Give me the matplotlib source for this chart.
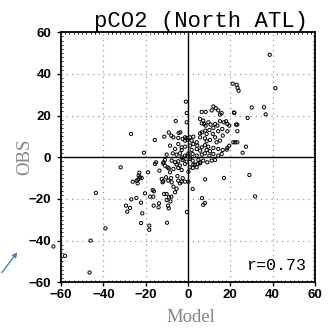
import matplotlib
matplotlib.use("Agg")
import matplotlib.pyplot as plt
from matplotlib.patches import FancyArrowPatch
from matplotlib.ticker import MultipleLocator

# Model vs. observed pCO2 anomalies, North Atlantic
points = [
    (-63.6, -42.8), (-58.1, -47.3), (-46.5, -55.3), (-46.0, -40.0), (-39.0, -34.1),
    (-43.5, -17.1), (-31.8, -4.8), (-26.9, 11.2), (-20.8, 2.2), (-15.7, 8.3),
    (38.6, 49.2), (41.3, 33.2), (21.1, 35.3), (23.0, 34.8), (23.4, 33.3),
    (23.9, 32.0), (-1.0, 26.7), (30.1, 23.9), (35.9, 24.0), (36.7, 20.6),
    (21.7, 21.5), (28.2, 18.9), (27.4, 5.1), (25.8, 2.2), (29.0, -8.5),
    (31.7, -18.8), (17.0, -9.9), (8.1, -10.6), (6.6, -19.6), (7.2, -22.8),
    (8.0, -21.9), (2.2, -15.2), (-0.5, -26.3), (-22.2, -31.6), (-18.3, -32.8),
    (-18.3, -34.8), (-9.9, -31.4), (-29.3, -23.2), (-27.4, -24.3), (-28.7, -26.1),
    (-21.6, -26.9), (-26.8, -20.2), (-24.4, -19.5), (-22.2, -21.8), (-20.3, -17.3),
    (-17.9, -18.9), (-16.4, -18.9), (-16.2, -23.2), (-13.7, -22.1), (-10.1, -20.5),
    (-9.4, -23.2), (-9.1, -24.5), (-10.1, -17.6), (-13.9, -24.0), (-16.7, -15.7),
    (-16.1, -16.3), (-6.9, -14.1), (-5.4, -15.1), (-6.1, -16.8), (-11.3, -17.6),
    (-9.0, -19.2), (-7.9, -18.9), (-8.3, -21.2),
    (-26.1, -11.7), (-24.2, -11.2), (-23.5, -10.6), (-22.7, -9.6), (-23.0, -7.4),
    (-21.9, -9.9), (-23.3, -8.8), (-23.8, -12.5), (-18.9, -7.2), (-15.1, -2.4),
    (-15.6, -3.2), (-11.7, -2.9), (-10.9, -4.0), (-11.5, -2.4), (-9.6, -4.8),
    (-9.1, -5.3), (-12.4, -10.4), (-11.7, -11.5), (-10.4, -9.6), (-9.3, -11.2),
    (-7.7, -12.0), (-4.6, -11.2), (-3.8, -12.5), (-3.0, -11.7), (-1.4, -11.7),
    (0.2, -11.7), (-5.0, -9.0), (-2.5, -10.0), (-12.0, -12.0), (-8.0, -10.0),
    (-6.9, -5.6), (-4.6, -5.1), (-3.0, -6.1), (0.2, -6.9), (2.2, -5.1),
    (4.1, -4.8), (-8.5, -7.2), (-13.5, -6.4), (0.9, -4.8), (2.5, -3.5),
    (4.6, -3.2), (5.7, -2.4),
    (-10.9, -1.3), (-7.7, -1.6), (-6.1, -2.4), (-4.6, -1.9), (-2.5, -1.3),
    (-0.6, -2.1), (2.2, -1.6), (4.9, -1.3), (7.2, -1.6), (9.1, -2.4),
    (11.2, -1.6), (12.8, -1.3), (-5.4, -3.5), (-3.8, -4.0), (-1.4, -3.2),
    (5.7, -2.9), (3.3, -3.5), (-10.1, 1.3), (-7.2, 1.9), (-5.4, 1.3),
    (-3.8, 1.9), (-1.4, 0.8), (0.2, 1.9), (2.2, 1.6), (4.1, 0.8),
    (6.5, 1.3), (8.0, 1.9), (10.1, 0.8), (12.0, 1.6), (14.3, 0.8),
    (15.9, 1.6), (-3.0, 0.0), (0.9, 0.0), (-2.2, -0.5), (1.0, -0.8),
    (-0.3, 0.5),
    (-8.5, 5.6), (-4.6, 6.4), (-3.0, 4.8), (-1.4, 5.1), (0.9, 5.6),
    (2.5, 6.4), (4.4, 5.6), (6.5, 4.8), (8.0, 5.8), (9.6, 5.1),
    (12.0, 4.5), (14.3, 4.0), (16.4, 3.5), (18.6, 4.5), (19.5, 5.6),
    (1.7, 3.5), (4.1, 4.0), (5.7, 3.2), (8.8, 3.5), (10.4, 2.9),
    (-3.0, 3.5), (-6.1, 4.0), (22.3, 7.2), (23.3, 7.2), (18.3, 3.7),
    (-7.9, 10.4), (-6.9, 9.6), (-11.2, 9.9), (-4.6, 9.3), (-2.5, 8.8),
    (-1.4, 9.6), (-0.6, 9.3), (0.9, 9.6), (2.5, 9.9), (5.7, 9.6),
    (8.0, 9.1), (10.4, 8.3), (12.8, 9.6), (15.1, 8.0), (16.4, 10.4),
    (-1.4, 8.0), (-0.2, 8.3), (1.7, 8.0), (4.1, 7.2), (8.8, 7.7),
    (13.5, 7.2), (21.4, 7.2), (-9.1, 11.9), (-4.4, 11.7), (-3.6, 12.0),
    (5.7, 11.5), (6.6, 12.0), (8.2, 12.8), (10.1, 13.1), (12.0, 14.1),
    (14.3, 12.5), (16.2, 13.6), (18.6, 12.5), (23.3, 12.5), (8.8, 11.2),
    (11.7, 11.2),
    (7.2, 17.6), (7.6, 16.0), (9.6, 16.8), (10.7, 15.7), (12.8, 16.0),
    (15.1, 17.3), (17.0, 16.8), (18.0, 17.3), (18.6, 16.0), (19.5, 15.2),
    (13.9, 15.2), (8.3, 15.2), (6.5, 16.3), (-0.6, 16.8), (-5.8, 17.4),
    (22.7, 15.7), (23.3, 15.7), (15.1, 20.5), (15.9, 21.2), (5.7, 18.4),
    (6.5, 21.8), (8.3, 21.8), (12.0, 24.4), (11.2, 22.5), (13.1, 23.6),
    (14.3, 22.5), (-0.6, 21.2), (21.9, 21.3),
]
model = [p[0] for p in points]
obs = [p[1] for p in points]

title = "pCO2 (North ATL)"
r_label = "r=0.73"
ticks = [-60, -40, -20, 0, 20, 40, 60]
tick_labels = ["\u221260", "\u221240", "\u221220", "0", "20", "40", "60"]

W, H = 332, 329
fig = plt.figure(figsize=(W / 100, H / 100), dpi=100)
ax = fig.add_axes([61 / W, 46.7 / H, 254 / W, 250 / H])

ax.set_xlim(-60, 60)
ax.set_ylim(-60, 60)

# dotted grid and solid zero lines
for t in ticks[1:-1]:
    if t == 0:
        continue
    ax.axvline(t, color="#9a9a9a", lw=0.9, ls=(0, (1, 3.2)), zorder=1)
    ax.axhline(t, color="#9a9a9a", lw=0.9, ls=(0, (1, 3.2)), zorder=1)
ax.axvline(0, color="black", lw=1.0, zorder=2)
ax.axhline(0, color="black", lw=1.0, zorder=2)

ax.scatter(model, obs, s=5.5, facecolors="none", edgecolors="black",
           linewidths=0.7, zorder=3, clip_on=False)

ax.set_xticks(ticks)
ax.set_yticks(ticks)
tick_font = dict(family="Liberation Sans", fontweight="bold", fontsize=9.5)
ax.set_xticklabels(tick_labels, **tick_font)
ax.set_yticklabels(tick_labels, **tick_font)
ax.xaxis.set_minor_locator(MultipleLocator(2))
ax.yaxis.set_minor_locator(MultipleLocator(2))
ax.tick_params(which="major", direction="out", length=3, width=1.0,
               top=False, right=False)
ax.tick_params(which="minor", direction="in", length=1.5, width=0.6,
               top=True, right=True)
ax.tick_params(axis="y", which="major", pad=4)
ax.tick_params(axis="x", which="major", pad=1.5)
for s in ax.spines.values():
    s.set_linewidth(1.3)

ax.text(0.965, 0.05, r_label, transform=ax.transAxes, ha="right",
        va="baseline", fontsize=12, family="Liberation Mono")

fig.text(201 / W, 1 - 27.5 / H, title, ha="center", va="baseline",
         fontsize=16, family="Liberation Mono")
fig.text(191 / W, 7.5 / H, "Model", ha="center", va="baseline",
         fontsize=13.5, family="Liberation Serif", color="#858585")
fig.text(25 / W, 1 - 157 / H, "OBS", ha="center", va="center",
         rotation=90, fontsize=13.5, family="Liberation Serif", color="#858585")

arrow = FancyArrowPatch((0 / W, 1 - 275 / H), (19 / W, 1 - 250 / H),
                        transform=fig.transFigure, arrowstyle="-|>",
                        mutation_scale=7, color="#4a82c4", lw=1.0)
fig.add_artist(arrow)

fig.savefig("out.png", dpi=100)
